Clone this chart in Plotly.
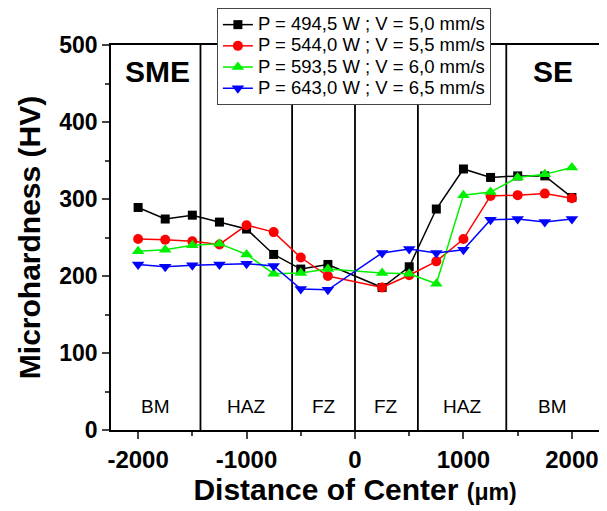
import plotly.graph_objects as go

# ---- data ----
distance = [-2000, -1750, -1500, -1250, -1000, -750, -500, -250,
            250, 500, 750, 1000, 1250, 1500, 1750, 2000]
hv_494 = [289, 274, 279, 270, 261, 228, 209, 215, 185, 212, 287, 339, 328, 330, 330, 302]
hv_544 = [248, 247, 245, 241, 266, 257, 224, 200, 185, 201, 219, 248, 304, 305, 307, 301]
hv_593 = [232, 234, 240, 242, 228, 203, 204, 209, 204, 203, 190, 305, 309, 328, 332, 341]
hv_643 = [215, 212, 214, 215, 216, 213, 183, 182, 230, 235, 230, 234, 273, 274, 270, 274]
series_names = ["P = 494,5 W ; V = 5,0 mm/s", "P = 544,0 W ; V = 5,5 mm/s",
                "P = 593,5 W ; V = 6,0 mm/s", "P = 643,0 W ; V = 6,5 mm/s"]
zone_bounds = [-2250, -1425, -580, 0, 580, 1395, 2250]
zone_labels = ["BM", "HAZ", "FZ", "FZ", "HAZ", "BM"]
x_ticks = [-2000, -1000, 0, 1000, 2000]
y_ticks = [0, 100, 200, 300, 400, 500]

FONT = "Liberation Sans, Arial, sans-serif"
colors = ["#000000", "#ff0000", "#00f000", "#0000ff"]
symbols = ["square", "circle", "triangle-up", "triangle-down"]
sizes = [9, 10, 11, 11]

fig = go.Figure()
for vals, name, c, s, sz in zip([hv_494, hv_544, hv_593, hv_643], series_names, colors, symbols, sizes):
    fig.add_trace(go.Scatter(
        x=distance, y=vals, name="<span style='font-size:18.5px'>" + name + "</span>",
        mode="lines+markers",
        line=dict(color=c, width=1.5),
        marker=dict(symbol=s, size=sz, color=c, line=dict(width=0)),
    ))

# zone separators
for b in zone_bounds[1:-1]:
    fig.add_shape(type="line", x0=b, x1=b, y0=0, y1=1, xref="x", yref="paper",
                  line=dict(color="black", width=1.8), layer="below")

# zone labels
for i, lab in enumerate(zone_labels):
    xm = (zone_bounds[i] + zone_bounds[i + 1]) / 2
    fig.add_annotation(x=xm, y=30, xref="x", yref="y", text=lab, showarrow=False,
                       font=dict(family=FONT, size=19, color="black"))

fig.add_annotation(x=-1825, y=466, xref="x", yref="y", text="<b>SME</b>", showarrow=False,
                   font=dict(family=FONT, size=30, color="black"))
fig.add_annotation(x=1825, y=466, xref="x", yref="y", text="<b>SE</b>", showarrow=False,
                   font=dict(family=FONT, size=30, color="black"))

# page body adds an 8px offset, so the figure is sized/margined to compensate
fig.update_layout(
    width=599, height=503,
    margin=dict(l=103, r=8, t=37, b=81, autoexpand=False),
    paper_bgcolor="white", plot_bgcolor="white",
    font=dict(family=FONT, color="black"),
    legend=dict(x=0.217, y=1.096, xanchor="left", yanchor="top",
                bgcolor="white", bordercolor="#444444", borderwidth=1,
                font=dict(family=FONT, size=14, color="black"),
                tracegroupgap=0, itemsizing="trace"),
    showlegend=True,
)
fig.update_xaxes(
    range=[-2250, 2250], tickvals=x_ticks, ticktext=[f"<b>{v}</b>" for v in x_ticks],
    tickfont=dict(family=FONT, size=24), ticks="outside", ticklen=7, tickwidth=1.5,
    minor=dict(dtick=500, tick0=0, ticks="outside", ticklen=4, tickwidth=1.5),
    showline=True, linecolor="black", linewidth=1.5, mirror=True,
    showgrid=False, zeroline=False, automargin=False,
    title=dict(text="<b>Distance of Center </b><span style='font-size:23px'><b>(μm)</b></span>",
               font=dict(family=FONT, size=30), standoff=0),
)
fig.update_yaxes(
    range=[0, 500], tickvals=y_ticks, ticktext=[f"<b>{v}</b>" for v in y_ticks],
    tickfont=dict(family=FONT, size=23), ticks="outside", ticklen=7, tickwidth=1.5,
    minor=dict(dtick=50, tick0=0, ticks="outside", ticklen=4, tickwidth=1.5),
    showline=True, linecolor="black", linewidth=1.5, mirror=True,
    showgrid=False, zeroline=False, automargin=False,
    title=dict(text="<b>Microhardness (HV)</b>", font=dict(family=FONT, size=30), standoff=10),
)

fig.write_html("out.html")
